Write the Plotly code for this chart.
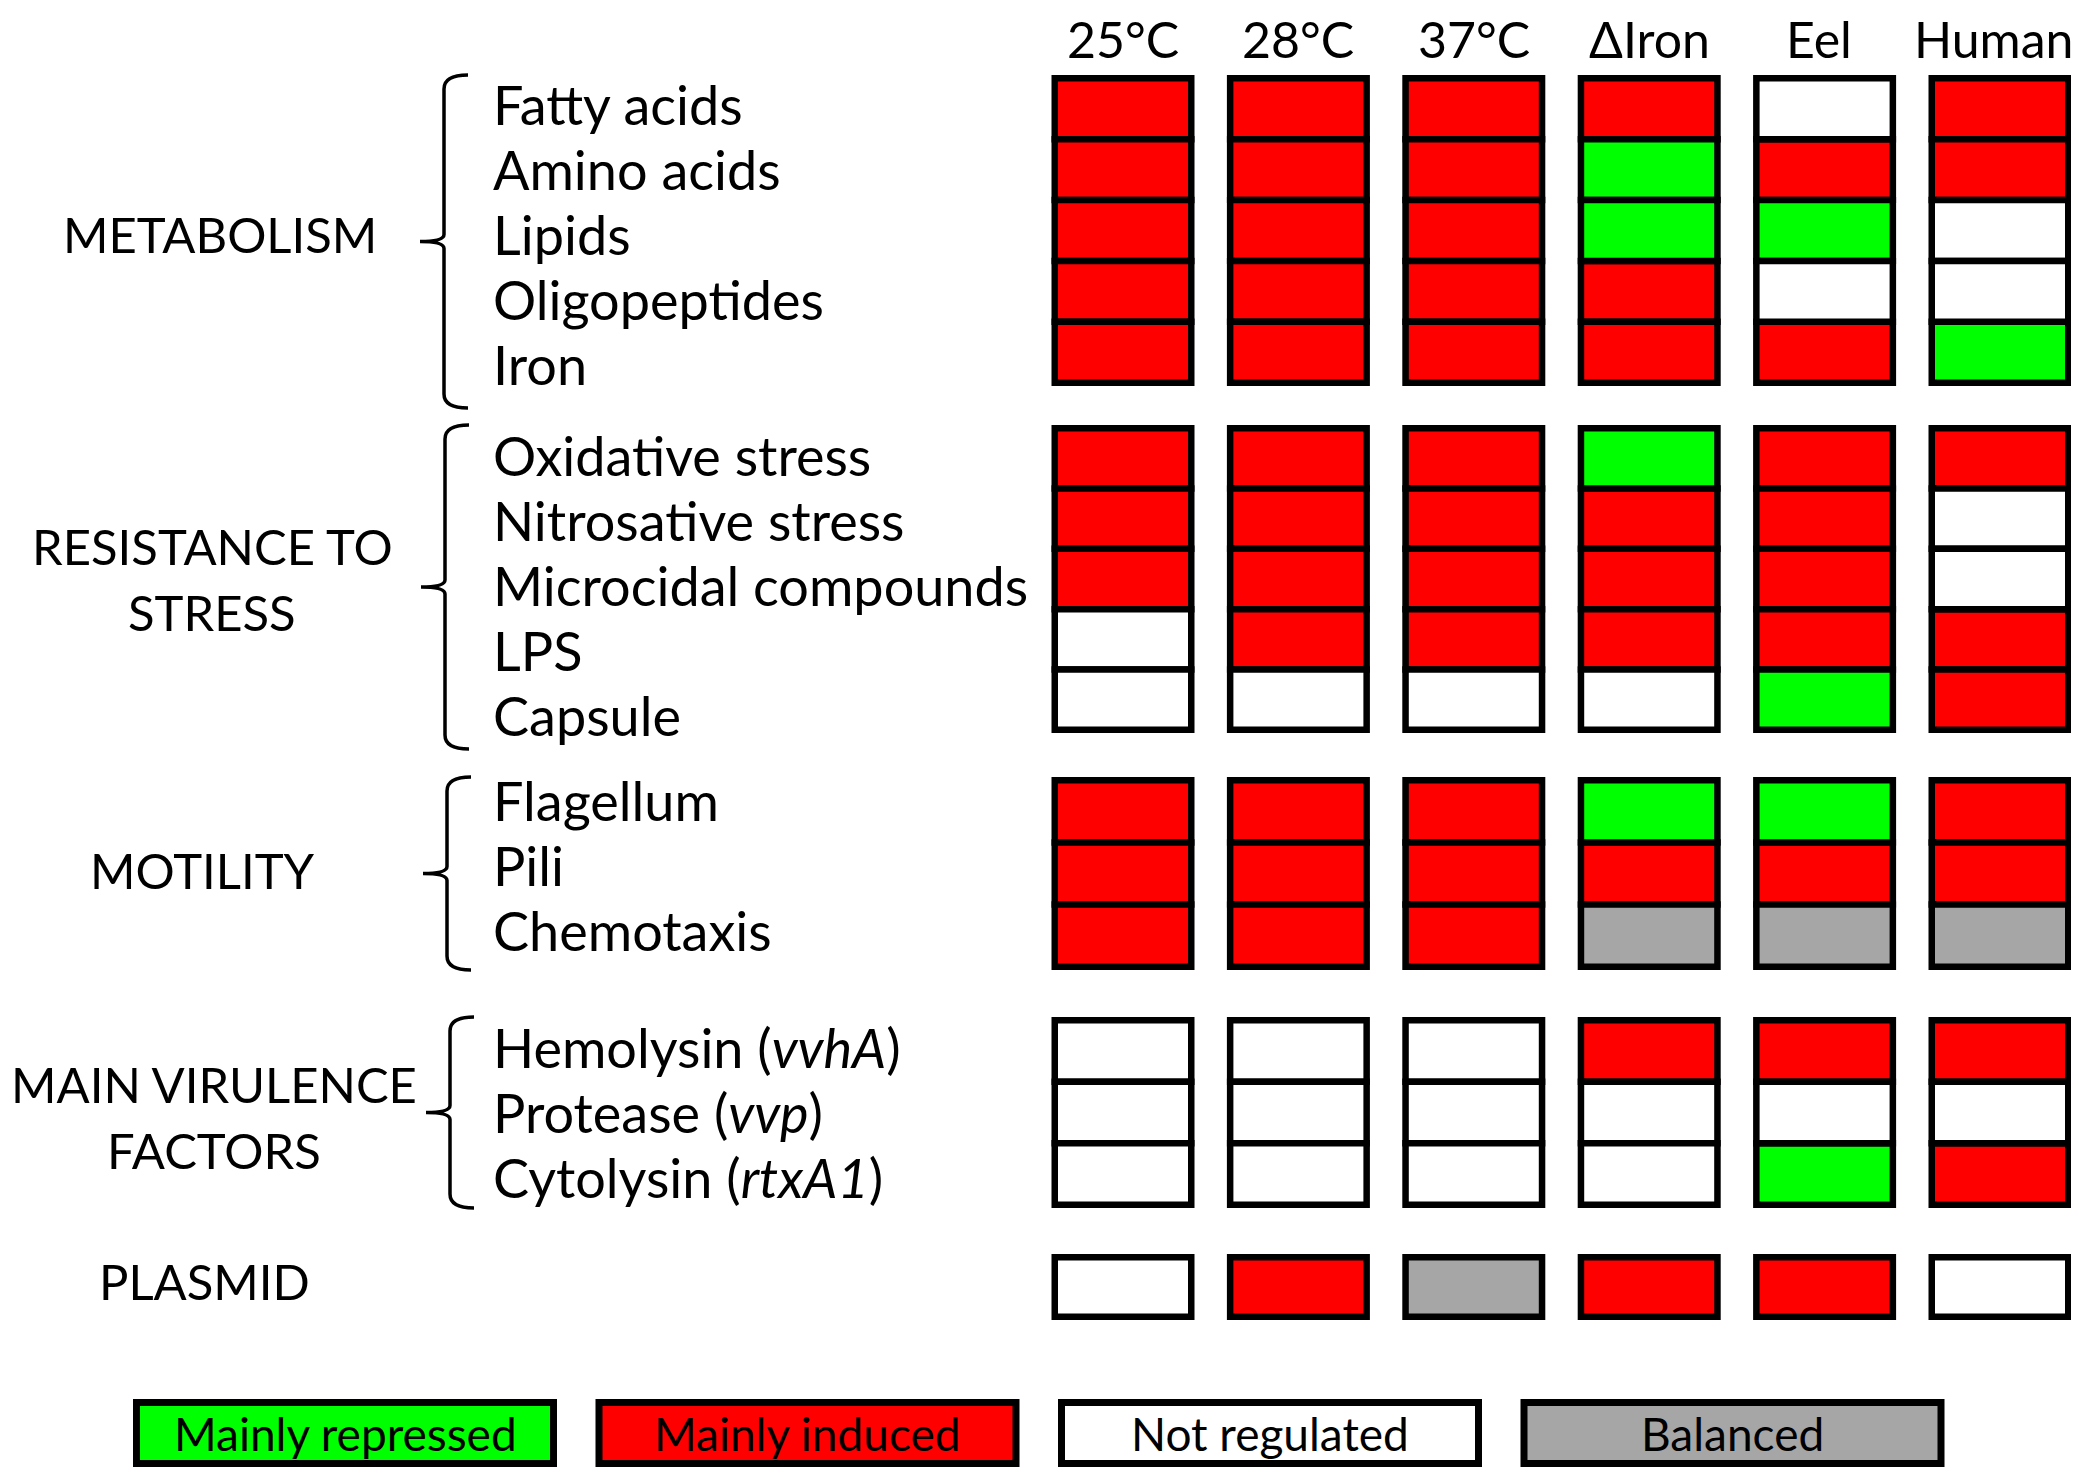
import plotly.graph_objects as go

# conditions (columns)
conditions = ["25°C", "28°C", "37°C", "ΔIron", "Eel", "Human"]

# functional groups and their rows
group_names = ["METABOLISM", "RESISTANCE TO<br>STRESS", "MOTILITY", "MAIN VIRULENCE<br>FACTORS", "PLASMID"]

metabolism_rows = ["Fatty acids", "Amino acids", "Lipids", "Oligopeptides", "Iron"]
stress_rows = ["Oxidative stress", "Nitrosative stress", "Microcidal compounds", "LPS", "Capsule"]
motility_rows = ["Flagellum", "Pili", "Chemotaxis"]
virulence_rows = ["Hemolysin (<i>vvhA</i>)", "Protease (<i>vvp</i>)", "Cytolysin (<i>rtxA1</i>)"]
plasmid_rows = [""]

# calls per row, one letter per condition
# R = mainly induced, G = mainly repressed, W = not regulated, B = balanced
metabolism_calls = ["RRRRWR", "RRRGRR", "RRRGGW", "RRRRWW", "RRRRRG"]
stress_calls = ["RRRGRR", "RRRRRW", "RRRRRW", "WRRRRR", "WWWWGR"]
motility_calls = ["RRRGGR", "RRRRRR", "RRRBBB"]
virulence_calls = ["WWWRRR", "WWWWWW", "WWWWGR"]
plasmid_calls = ["WRBRRW"]

legend_codes = ["G", "R", "W", "B"]
legend_labels = ["Mainly repressed", "Mainly induced", "Not regulated", "Balanced"]

# styling / layout (page pixels; page body has an 8px margin)
W, H = 2079, 1473
PAD = 8
FONT = "Lato"
colors = {"R": "#FF0000", "G": "#00FF00", "W": "#FFFFFF", "B": "#A6A6A6"}
LW = 6.5
COL_X0, COL_STEP, CELL_W = 1123, 175.4, 143
GROUP_TOP = [75, 425, 777, 1017, 1254]
GROUP_BOT = [386, 733, 970, 1208, 1320]
BRACE_EXTRA = [22, 16, 0, 0]
BRACE_X = [444, 445, 447, 450]
LABEL_X, LABEL_PITCH = 491, 65
LABEL_OFF = [29, 30, 23, 30, 0]
GROUP_LABEL_X = [220, 212, 202, 214, 204]
GROUP_LABEL_DY = [3, 0, -4, 4, -6]
HEADER_DX = [0, 0, 0, 0, -6, 0]
LEG_X0, LEG_STEP, LEG_W, LEG_TOP, LEG_BOT = 345, 462.5, 424, 1399, 1467

groups = [
    (metabolism_rows, metabolism_calls),
    (stress_rows, stress_calls),
    (motility_rows, motility_calls),
    (virulence_rows, virulence_calls),
    (plasmid_rows, plasmid_calls),
]

col_x = [COL_X0 + COL_STEP * i for i in range(len(conditions))]

cells = {c: {"x": [], "base": [], "h": []} for c in colors}
annotations = []
shapes = []

for g, (rows, calls) in enumerate(groups):
    top = GROUP_TOP[g] + LW / 2
    bot = GROUP_BOT[g] - LW / 2
    rh = (bot - top) / len(rows)
    for r, row in enumerate(calls):
        for c, code in enumerate(row):
            cells[code]["x"].append(col_x[c])
            cells[code]["base"].append(top + r * rh)
            cells[code]["h"].append(rh)
        if rows[r]:
            annotations.append(dict(x=LABEL_X, y=GROUP_TOP[g] + LABEL_OFF[g] + r * LABEL_PITCH,
                                    text=rows[r], xanchor="left", yanchor="middle",
                                    showarrow=False, font=dict(size=54)))
    # group label
    mid = (GROUP_TOP[g] + GROUP_BOT[g]) / 2 + GROUP_LABEL_DY[g]
    lines = group_names[g].split("<br>")
    for k, line in enumerate(lines):
        off = (k - (len(lines) - 1) / 2) * 66
        annotations.append(dict(x=GROUP_LABEL_X[g], y=mid + off, text=line, xanchor="center",
                                yanchor="middle", showarrow=False, font=dict(size=49)))
    # brace
    if g < len(BRACE_EXTRA):
        bt = GROUP_TOP[g]
        bb = GROUP_BOT[g] + BRACE_EXTRA[g]
        bm = (bt + bb) / 2
        x = BRACE_X[g]
        path = (f"M {x+24},{bt} Q {x},{bt} {x},{bt+14} L {x},{bm-7} "
                f"Q {x},{bm} {x-24},{bm} Q {x},{bm} {x},{bm+7} "
                f"L {x},{bb-14} Q {x},{bb} {x+24},{bb}")
        shapes.append(dict(type="path", path=path, xref="x", yref="y",
                           line=dict(color="black", width=3.5)))

fig = go.Figure()
for code, d in cells.items():
    fig.add_trace(go.Bar(x=d["x"], base=d["base"], y=d["h"], width=CELL_W - LW,
                         marker=dict(color=colors[code], line=dict(color="black", width=LW)),
                         hoverinfo="skip", showlegend=False))

# column headers
for c, name in enumerate(conditions):
    last = c == len(conditions) - 1
    annotations.append(dict(x=W - 4 if last else col_x[c] + HEADER_DX[c], y=39, text=name,
                            xanchor="right" if last else "center", yanchor="middle",
                            showarrow=False, font=dict(size=50)))

# legend boxes
leg_x = [LEG_X0 + LEG_STEP * i for i in range(len(legend_codes))]
fig.add_trace(go.Bar(x=leg_x, base=[LEG_TOP + 3.5] * 4, y=[LEG_BOT - LEG_TOP - 7] * 4,
                     width=LEG_W - 7,
                     marker=dict(color=[colors[c] for c in legend_codes],
                                 line=dict(color="black", width=7)),
                     hoverinfo="skip", showlegend=False))
for i, lab in enumerate(legend_labels):
    annotations.append(dict(x=leg_x[i], y=(LEG_TOP + LEG_BOT) / 2, text=lab, xanchor="center",
                            yanchor="middle", showarrow=False, font=dict(size=46)))

fig.update_layout(
    width=W - PAD, height=H - PAD,
    margin=dict(l=0, r=0, t=0, b=0),
    barmode="overlay",
    plot_bgcolor="white", paper_bgcolor="white",
    font=dict(family=FONT, color="black"),
    xaxis=dict(range=[PAD, W], visible=False, fixedrange=True),
    yaxis=dict(range=[H, PAD], visible=False, fixedrange=True),
    annotations=annotations,
    shapes=shapes,
    hovermode=False,
)

fig.write_html("out.html", config={"displayModeBar": False})
